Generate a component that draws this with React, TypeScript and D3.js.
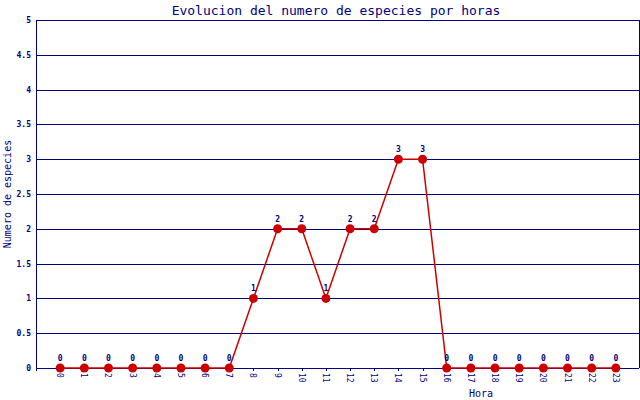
import React from "react";
import * as d3 from "d3";

const hours = [0,1,2,3,4,5,6,7,8,9,10,11,12,13,14,15,16,17,18,19,20,21,22,23];
const counts = [0,0,0,0,0,0,0,0,1,2,2,1,2,2,3,3,0,0,0,0,0,0,0,0];
const yTicks = [0,0.5,1,1.5,2,2.5,3,3.5,4,4.5,5];
const title = "Evolucion del numero de especies por horas";
const xTitle = "Hora";
const yTitle = "Numero de especies";

const NAVY = "#000080";
const RED = "#cc0000";
const MONO = "'DejaVu Sans Mono', monospace";

export default function App() {
  const W = 640, H = 400;
  const left = 36, right = 639, top = 20, bottom = 368;
  const x = d3.scaleLinear().domain([-1, 24]).range([left, 640]);
  const y = d3.scaleLinear().domain([0, 5]).range([bottom, top]);
  const data = hours.map((h, i) => ({ h, v: counts[i] }));
  const line = d3.line<{ h: number; v: number }>().x(d => x(d.h)).y(d => y(d.v));
  const fmt = (v: number) => (Number.isInteger(v) ? String(v) : String(v));
  return (
    <svg width={W} height={H} style={{ position: "absolute", left: 0, top: 0, background: "#fff" }}>
      <rect x={0} y={0} width={W} height={H} fill="#fff" />
      <text x={336} y={15} textAnchor="middle" fontFamily={MONO} fontSize={13} fill={NAVY}>{title}</text>
      {yTicks.map(t => (
        <g key={t}>
          <line x1={left} x2={right} y1={Math.round(y(t)) + 0.5} y2={Math.round(y(t)) + 0.5} stroke={NAVY} strokeWidth={1} />
          <text x={31} y={y(t) + 3} textAnchor="end" fontFamily={MONO} fontSize={8} fontWeight="bold" fill={NAVY}>{fmt(t)}</text>
        </g>
      ))}
      <line x1={left + 0.5} x2={left + 0.5} y1={top} y2={bottom + 3} stroke={NAVY} strokeWidth={1} />
      <line x1={right + 0.5} x2={right + 0.5} y1={top} y2={bottom} stroke={NAVY} strokeWidth={1} />
      {hours.map(h => (
        <g key={h}>
          <line x1={Math.round(x(h)) + 0.5} x2={Math.round(x(h)) + 0.5} y1={bottom} y2={bottom + 3} stroke={NAVY} strokeWidth={1} />
          <text transform={`translate(${x(h) - 3},${bottom + 5}) rotate(90)`} textAnchor="start" fontFamily={MONO} fontSize={8} fill={NAVY}>{h}</text>
        </g>
      ))}
      <path d={line(data) || ""} fill="none" stroke={RED} strokeWidth={1.5} />
      {data.map(d => (
        <g key={d.h}>
          <circle cx={x(d.h)} cy={y(d.v)} r={4.5} fill={RED} />
          <text x={x(d.h)} y={y(d.v) - 7} textAnchor="middle" fontFamily={MONO} fontSize={8} fontWeight="bold" fill={NAVY}>{d.v}</text>
        </g>
      ))}
      <text x={481} y={397} textAnchor="middle" fontFamily={MONO} fontSize={10} fill={NAVY}>{xTitle}</text>
      <text transform={`translate(11,194) rotate(-90)`} textAnchor="middle" fontFamily={MONO} fontSize={10} fill={NAVY}>{yTitle}</text>
    </svg>
  );
}
